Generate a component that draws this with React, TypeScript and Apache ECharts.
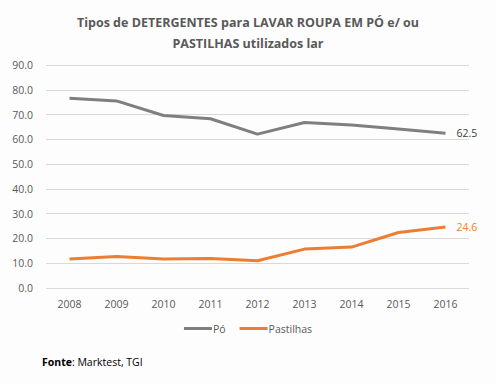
import React, { useEffect, useRef } from "react";
import * as echarts from "echarts";

const years = ["2008", "2009", "2010", "2011", "2012", "2013", "2014", "2015", "2016"];
const po = [76.6, 75.5, 69.6, 68.3, 62.1, 66.8, 65.8, 64.2, 62.5];
const pastilhas = [11.7, 12.7, 11.7, 11.9, 11.0, 15.7, 16.5, 22.4, 24.6];

const FONT = "'Open Sans', 'Noto Sans', sans-serif";

function endLabel(color: string) {
  return {
    show: true,
    distance: 11,
    color,
    fontSize: 10.5,
    fontFamily: FONT,
    formatter: (p: any) => Number(p.value).toFixed(1),
  };
}

export default function App() {
  const ref = useRef<HTMLDivElement>(null);
  useEffect(() => {
    if (!ref.current) return;
    const chart = echarts.init(ref.current, null, { renderer: "svg" });
    chart.setOption({
      animation: false,
      backgroundColor: "#fdfdfd",
      title: {
        text: "Tipos de DETERGENTES para LAVAR ROUPA EM PÓ e/ ou\nPASTILHAS utilizados lar",
        left: "center",
        top: 7,
        textStyle: {
          fontFamily: FONT,
          fontSize: 12.5,
          fontWeight: "bold",
          color: "#595959",
          lineHeight: 21,
        },
      },
      legend: {
        bottom: 44,
        left: "center",
        itemWidth: 28,
        itemHeight: 3,
        itemGap: 14,
        icon: "rect",
        textStyle: { fontFamily: FONT, fontSize: 10.5, color: "#595959", padding: [0, 0, 0, -4] },
        data: ["Pó", "Pastilhas"],
      },
      grid: { left: 46, right: 27, top: 65, bottom: 95 },
      xAxis: {
        type: "category",
        data: years,
        boundaryGap: true,
        axisLine: { show: false },
        axisTick: { show: false },
        axisLabel: { fontFamily: FONT, fontSize: 10.5, color: "#595959", margin: 10 },
      },
      yAxis: {
        type: "value",
        min: 0,
        max: 90,
        interval: 10,
        axisLine: { show: false },
        axisTick: { show: false },
        splitLine: { lineStyle: { color: "#d9d9d9", width: 1 } },
        axisLabel: {
          fontFamily: FONT,
          fontSize: 10.5,
          color: "#595959",
          margin: 13,
          formatter: (v: number) => v.toFixed(1),
        },
      },
      series: [
        {
          name: "Pó",
          type: "line",
          data: po,
          symbol: "none",
          lineStyle: { color: "#7f7f7f", width: 3 },
          itemStyle: { color: "#7f7f7f" },
          endLabel: endLabel("#404040"),
        },
        {
          name: "Pastilhas",
          type: "line",
          data: pastilhas,
          symbol: "none",
          lineStyle: { color: "#ED7D31", width: 3 },
          itemStyle: { color: "#ED7D31" },
          endLabel: endLabel("#ED7D31"),
        },
      ],
      graphic: [
        {
          type: "text",
          left: 42,
          top: 356,
          style: {
            text: "{b|Fonte}: Marktest, TGI",
            rich: {
              b: { fontWeight: "bold", fontFamily: FONT, fontSize: 10.5, fill: "#000" },
            },
            fontFamily: FONT,
            fontSize: 10.5,
            fill: "#000",
          },
        },
      ],
    });
    return () => chart.dispose();
  }, []);
  return (
    <div
      ref={ref}
      style={{ position: "fixed", left: 0, top: 0, width: 496, height: 383 }}
    />
  );
}
